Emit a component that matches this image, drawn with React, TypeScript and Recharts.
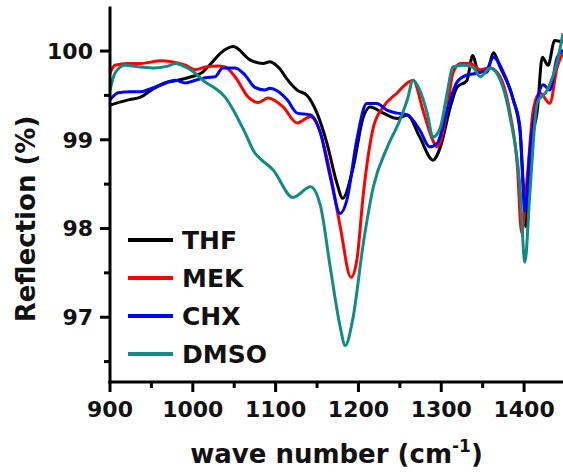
import { LineChart, Line, XAxis, YAxis, Legend } from 'recharts';

// wave number (cm-1) / reflection (%) pairs per solvent
const THF_X = [900, 922, 937, 950, 966, 982, 998, 1010, 1022, 1034, 1049, 1069, 1085, 1093, 1105, 1114, 1126, 1138, 1150, 1162, 1174, 1181, 1193, 1206, 1214, 1230, 1247, 1259, 1274, 1290, 1299, 1311, 1319, 1331, 1338, 1344, 1355, 1363, 1371, 1387, 1395, 1399, 1402, 1406, 1410, 1416, 1422, 1429, 1437, 1447];
const THF_Y = [99.39, 99.45, 99.48, 99.56, 99.64, 99.67, 99.71, 99.75, 99.86, 99.98, 100.05, 99.9, 99.86, 99.88, 99.8, 99.68, 99.56, 99.5, 99.3, 98.96, 98.51, 98.34, 98.66, 99.26, 99.37, 99.3, 99.24, 99.28, 99.03, 98.77, 98.92, 99.37, 99.59, 99.67, 99.95, 99.79, 99.76, 99.98, 99.82, 99.45, 99.1, 98.5, 98.02, 98.5, 99.0, 99.33, 99.93, 99.84, 100.12, 100.1];

const MEK_X = [900, 906, 922, 937, 962, 974, 991, 1003, 1015, 1030, 1039, 1051, 1067, 1079, 1091, 1109, 1126, 1142, 1154, 1166, 1178, 1191, 1198, 1206, 1218, 1230, 1247, 1259, 1266, 1278, 1290, 1295, 1307, 1314, 1323, 1335, 1347, 1359, 1371, 1383, 1392, 1397, 1404, 1411, 1419, 1431, 1440, 1447];
const MEK_Y = [99.75, 99.84, 99.86, 99.86, 99.89, 99.88, 99.84, 99.79, 99.82, 99.83, 99.82, 99.71, 99.48, 99.42, 99.47, 99.37, 99.19, 99.26, 99.08, 98.62, 98.02, 97.45, 97.64, 98.4, 99.14, 99.37, 99.53, 99.64, 99.67, 99.33, 98.99, 98.92, 99.33, 99.75, 99.86, 99.86, 99.79, 99.81, 99.71, 99.3, 98.69, 97.95, 98.6, 99.33, 99.53, 99.41, 99.82, 99.98];

const CHX_X = [900, 910, 925, 937, 950, 962, 979, 991, 1003, 1015, 1027, 1036, 1051, 1063, 1075, 1087, 1093, 1114, 1126, 1142, 1154, 1166, 1178, 1186, 1198, 1210, 1222, 1235, 1247, 1259, 1274, 1286, 1295, 1307, 1319, 1331, 1343, 1355, 1363, 1375, 1387, 1395, 1401, 1407, 1416, 1423, 1431, 1440, 1447];
const CHX_Y = [99.45, 99.53, 99.54, 99.54, 99.58, 99.62, 99.67, 99.64, 99.67, 99.7, 99.71, 99.81, 99.81, 99.73, 99.59, 99.56, 99.58, 99.45, 99.3, 99.28, 99.08, 98.58, 98.17, 98.32, 99.0, 99.41, 99.41, 99.33, 99.3, 99.28, 99.11, 98.92, 98.96, 99.33, 99.65, 99.73, 99.75, 99.79, 99.93, 99.76, 99.45, 99.14, 98.2, 98.88, 99.45, 99.62, 99.56, 99.93, 100.01];

const DMSO_X = [900, 906, 918, 937, 954, 970, 979, 991, 1003, 1015, 1027, 1039, 1051, 1063, 1075, 1081, 1097, 1121, 1142, 1154, 1166, 1178, 1184, 1193, 1206, 1218, 1235, 1250, 1259, 1266, 1274, 1283, 1290, 1299, 1307, 1314, 1326, 1338, 1347, 1359, 1371, 1383, 1395, 1401, 1407, 1416, 1428, 1440, 1447];
const DMSO_Y = [99.56, 99.75, 99.84, 99.82, 99.81, 99.83, 99.86, 99.82, 99.75, 99.65, 99.58, 99.48, 99.3, 99.08, 98.85, 98.79, 98.66, 98.35, 98.47, 98.26, 97.56, 96.89, 96.68, 96.97, 97.84, 98.47, 98.92, 99.22, 99.45, 99.67, 99.56, 99.3, 99.03, 99.14, 99.52, 99.82, 99.84, 99.82, 99.71, 99.81, 99.68, 99.26, 98.47, 97.62, 98.4, 99.42, 99.56, 99.88, 100.2];

const X_TICKS = [900, 950, 1000, 1050, 1100, 1150, 1200, 1250, 1300, 1350, 1400];
const Y_TICKS = [96.5, 97, 97.5, 98, 98.5, 99, 99.5, 100];

const toPoints = (xs: number[], ys: number[]) => xs.map((w, i) => ({ w, v: ys[i] }));

const series = [
  { name: 'THF', color: '#000000', data: toPoints(THF_X, THF_Y) },
  { name: 'MEK', color: '#ff0000', data: toPoints(MEK_X, MEK_Y) },
  { name: 'CHX', color: '#0000ff', data: toPoints(CHX_X, CHX_Y) },
  { name: 'DMSO', color: '#128a85', data: toPoints(DMSO_X, DMSO_Y) },
];

const FONT = '"DejaVu Sans", Arial, sans-serif';
const INK = '#111';

const YTick = (props: any) => {
  const { x, y, payload } = props;
  const major = Number.isInteger(payload.value);
  return (
    <g>
      <line x1={x - (major ? 10 : 6)} x2={x} y1={y} y2={y} stroke="#000" strokeWidth={3} />
      {major && (
        <text x={x - 17} y={y} dy="0.36em" textAnchor="end" fontFamily={FONT} fontWeight="bold" fontSize={22} fill={INK}>
          {payload.value}
        </text>
      )}
    </g>
  );
};

const XTick = (props: any) => {
  const { x, y, payload } = props;
  const major = payload.value % 100 === 0;
  return (
    <g>
      <line x1={x} x2={x} y1={y} y2={y + (major ? 10 : 6)} stroke="#000" strokeWidth={3} />
      {major && (
        <text x={x} y={y + 35} textAnchor="middle" fontFamily={FONT} fontWeight="bold" fontSize={22} fill={INK}>
          {payload.value}
        </text>
      )}
    </g>
  );
};

const XTitle = (props: any) => {
  const { x, y, width } = props.viewBox;
  return (
    <text x={x + width / 2} y={y + 81} textAnchor="middle" fontFamily={FONT} fontWeight="bold" fontSize={26} fill={INK}>
      wave number (cm
      <tspan fontSize={17} dy={-11}>-1</tspan>
      <tspan dy={11}>)</tspan>
    </text>
  );
};

const YTitle = (props: any) => {
  const { x, y, height } = props.viewBox;
  const cx = x + 35;
  const cy = y + height / 2 + 24;
  return (
    <text x={cx} y={cy} transform={`rotate(-90 ${cx} ${cy})`} textAnchor="middle" fontFamily={FONT} fontWeight="bold" fontSize={26} fill={INK}>
      Reflection (%)
    </text>
  );
};

// legend rows follow the series order (THF, MEK, CHX, DMSO)
const LegendBox = () => (
  <div>
    {series.map((s) => (
      <div key={s.name} style={{ display: 'flex', alignItems: 'center', height: 38 }}>
        <div style={{ width: 45, height: 4, background: s.color }} />
        <span style={{ marginLeft: 9, fontFamily: FONT, fontWeight: 'bold', fontSize: 25, color: INK, lineHeight: 1 }}>
          {s.name}
        </span>
      </div>
    ))}
  </div>
);

export default function App() {
  return (
    <div style={{ position: 'absolute', left: 0, top: 0, width: 563, height: 473, background: '#fff', overflow: 'hidden' }}>
      <LineChart width={563} height={473} margin={{ top: 8, right: 0, bottom: 0, left: 0 }}>
        <XAxis
          dataKey="w"
          type="number"
          domain={[900, 1447]}
          allowDataOverflow
          ticks={X_TICKS}
          interval={0}
          height={91}
          tickSize={0}
          tickMargin={0}
          tickLine={false}
          tick={<XTick />}
          axisLine={{ stroke: '#000', strokeWidth: 3, strokeLinecap: 'square' }}
          label={{ content: XTitle }}
        />
        <XAxis
          xAxisId="top"
          orientation="top"
          dataKey="w"
          type="number"
          domain={[900, 1447]}
          allowDataOverflow
          height={0}
          tick={false}
          tickLine={false}
          axisLine={{ stroke: '#000', strokeWidth: 3, strokeLinecap: 'square' }}
        />
        <YAxis
          type="number"
          domain={[96.27, 100.485]}
          allowDataOverflow
          ticks={Y_TICKS}
          interval={0}
          width={110}
          tickSize={0}
          tickMargin={0}
          tickLine={false}
          tick={<YTick />}
          axisLine={{ stroke: '#000', strokeWidth: 3, strokeLinecap: 'square' }}
          label={{ content: YTitle }}
        />
        <Legend
          layout="vertical"
          align="center"
          verticalAlign="middle"
          wrapperStyle={{ left: 128, top: 221, width: 'auto' }}
          content={LegendBox}
        />
        {series.map((s) => (
          <Line
            key={s.name}
            name={s.name}
            data={s.data}
            dataKey="v"
            type="monotone"
            stroke={s.color}
            strokeWidth={3}
            dot={false}
            activeDot={false}
            isAnimationActive={false}
          />
        ))}
      </LineChart>
    </div>
  );
}
